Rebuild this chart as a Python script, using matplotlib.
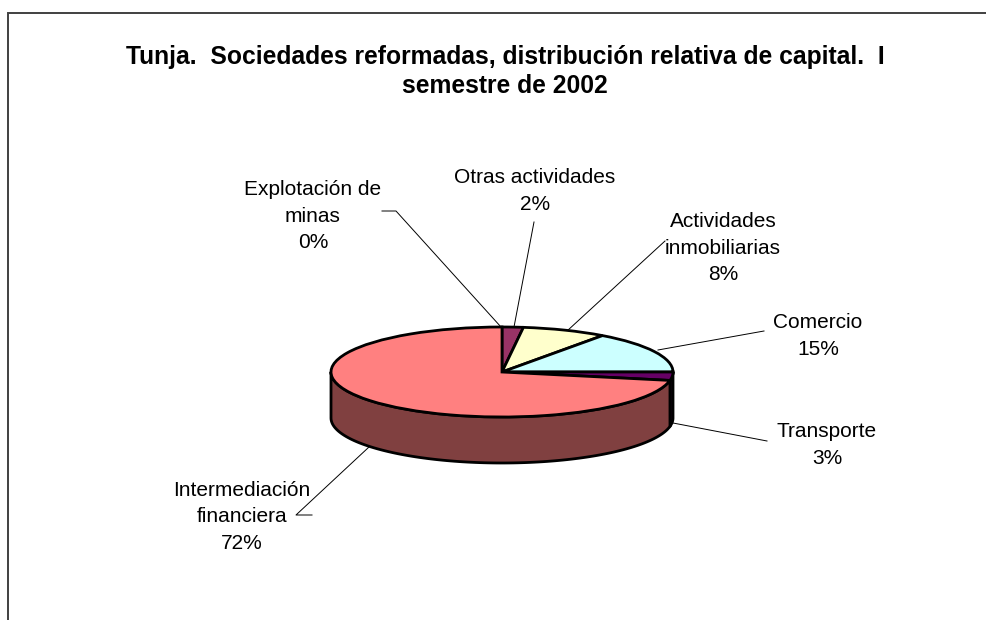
"""Tunja: sociedades reformadas, pie with depth."""
import numpy as np
import matplotlib
matplotlib.use("Agg")
import matplotlib.pyplot as plt

plt.rcParams["font.family"] = ["Liberation Sans", "DejaVu Sans"]

# ---- data
categories = ["Explotación de\nminas", "Otras actividades", "Actividades\ninmobiliarias",
              "Comercio", "Transporte", "Intermediación\nfinanciera"]
values = [0, 2, 8, 15, 3, 72]
top_colors = ["#800000", "#993366", "#FFFFCC", "#CCFFFF", "#660066", "#FF8080"]
side_colors = ["#400000", "#4C1933", "#808066", "#668080", "#330033", "#804040"]
title = "Tunja.  Sociedades reformadas, distribución relativa de capital.  I\nsemestre de 2002"

W, H = 986, 620
CX, CY, RX, RY, DEPTH = 502, 372, 171, 45, 46

# label centre (px) and leader line (px)
label_pos = [(313, 216), (535, 191), (723, 248), (818, 336), (827, 445), (242, 517)]
leaders = [
    [(382, 211), (396, 211), (501, 327)],
    [(534, 222), (514, 327)],
    [(665, 241), (567, 331)],
    [(764, 331), (658, 350)],
    [(767, 441), (673, 423)],
    [(312, 515), (296, 515), (369, 447)],
]

fig = plt.figure(figsize=(W / 100, H / 100), dpi=100)

# pixel coordinate layer for frame, leaders, text
bg = fig.add_axes([0, 0, 1, 1])
bg.set_xlim(0, W)
bg.set_ylim(H, 0)
bg.axis("off")
bg.plot([8, 8, W], [H, 13, 13], color="#404040", lw=1.4, solid_joinstyle="miter")

for pts in leaders:
    xs, ys = zip(*pts)
    bg.plot(xs, ys, color="black", lw=0.7)

for name, val, (x, y) in zip(categories, values, label_pos):
    bg.text(x, y, f"{name}\n{val}%", ha="center", va="center", fontsize=15, linespacing=1.48)

bg.text(505, 71.5, title, ha="center", va="center", fontsize=17.7, fontweight="bold", linespacing=1.3)

# pie layer, one data unit = the ellipse radius
ax = fig.add_axes([0, 0, 1, 1])
ax.patch.set_alpha(0)

# side wall, front half only
fracs = np.cumsum([0] + values) / sum(values)
for i, col in enumerate(side_colors):
    a0 = max(fracs[i], 0.25)
    a1 = min(fracs[i + 1], 0.75)
    if a1 <= a0:
        continue
    th = np.linspace(a0, a1, 120) * 2 * np.pi
    x = np.sin(th)
    y = np.cos(th)
    d = DEPTH / RY
    ax.fill(np.r_[x, x[::-1]], np.r_[y, y[::-1] - d], facecolor=col, edgecolor="black",
            lw=2, joinstyle="round")

ax.pie(values, colors=top_colors, startangle=90, counterclock=False, radius=1,
       wedgeprops=dict(edgecolor="black", linewidth=2))
ax.set_aspect("auto")
ax.set_xlim(-CX / RX, (W - CX) / RX)
ax.set_ylim(-(H - CY) / RY, CY / RY)

fig.savefig("out.png", dpi=100)
